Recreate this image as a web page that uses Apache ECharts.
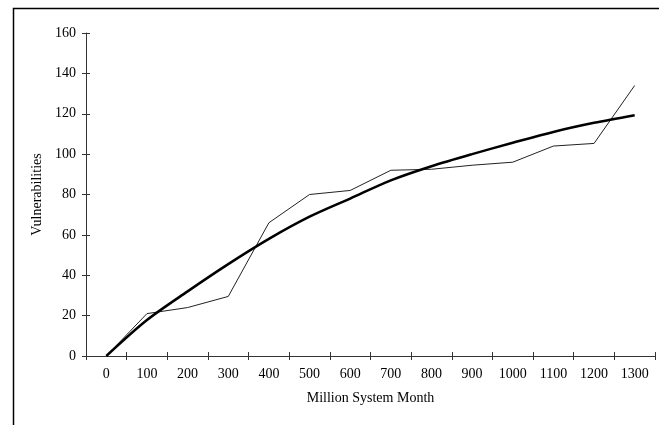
<!DOCTYPE html>
<html>
<head>
<meta charset="utf-8">
<script src="https://cdn.jsdelivr.net/npm/echarts@6/dist/echarts.min.js"></script>
<style>html,body{margin:0;padding:0;background:#fff}#c{width:659px;height:425px}</style>
</head>
<body>
<div id="c"></div>
<script>
var categories = ['0','100','200','300','400','500','600','700','800','900','1000','1100','1200','1300'];
var actual = [0, 21, 24, 29.5, 66, 80, 82, 92, 92.5, 94.5, 96, 104, 105.3, 134];
var trend = [0, 17.8, 32, 45.5, 58, 69, 78, 87, 94, 100, 105.6, 111, 115.5, 119.3];
var yTicks = [0, 20, 40, 60, 80, 100, 120, 140, 160];

var font = 'Liberation Serif';
var chart = echarts.init(document.getElementById('c'));
var axisColor = '#333';
chart.setOption({
  animation: false,
  backgroundColor: '#fff',
  graphic: [{
    type: 'rect', left: 11, top: 6,
    shape: { width: 800, height: 600 },
    style: { fill: 'none', stroke: '#000', lineWidth: 1.5 },
    silent: true
  }],
  grid: { left: 86, top: 33, right: 4, bottom: 69 },
  xAxis: [{
    type: 'category', data: categories, boundaryGap: true,
    name: 'Million System Month', nameLocation: 'middle', nameGap: 35,
    nameTextStyle: { fontFamily: font, fontSize: 14, color: '#000' },
    axisLine: { lineStyle: { color: axisColor, width: 1 } },
    axisTick: { show: true, length: 4, inside: false, lineStyle: { color: axisColor } },
    axisLabel: { fontFamily: font, fontSize: 14, color: '#000', margin: 11 },
    splitLine: { show: false }
  }, {
    type: 'category', data: categories, boundaryGap: true, position: 'bottom',
    axisLine: { show: false },
    axisTick: { show: true, length: 4, inside: true, lineStyle: { color: axisColor } },
    axisLabel: { show: false },
    splitLine: { show: false }
  }],
  yAxis: [{
    type: 'value', min: 0, max: 160, interval: 20,
    name: 'Vulnerabilities', nameLocation: 'middle', nameGap: 41,
    nameTextStyle: { fontFamily: font, fontSize: 14, color: '#000' },
    axisLine: { show: true, lineStyle: { color: axisColor, width: 1 } },
    axisTick: { show: true, length: 4, inside: false, lineStyle: { color: axisColor } },
    axisLabel: { fontFamily: font, fontSize: 14, color: '#000', margin: 10,
      formatter: function (v) { return yTicks.indexOf(v) >= 0 ? String(v) : ''; } },
    splitLine: { show: false }
  }, {
    type: 'value', min: 0, max: 160, interval: 20, position: 'left',
    axisLine: { show: false },
    axisTick: { show: true, length: 4, inside: true, lineStyle: { color: axisColor } },
    axisLabel: { show: false },
    splitLine: { show: false }
  }],
  series: [{
    type: 'line', data: actual, showSymbol: false, symbol: 'none',
    lineStyle: { color: '#222', width: 1 }, z: 2
  }, {
    type: 'line', data: trend, showSymbol: false, symbol: 'none', smooth: 0.3,
    lineStyle: { color: '#000', width: 2.5 }, z: 3
  }]
});
</script>
</body>
</html>
